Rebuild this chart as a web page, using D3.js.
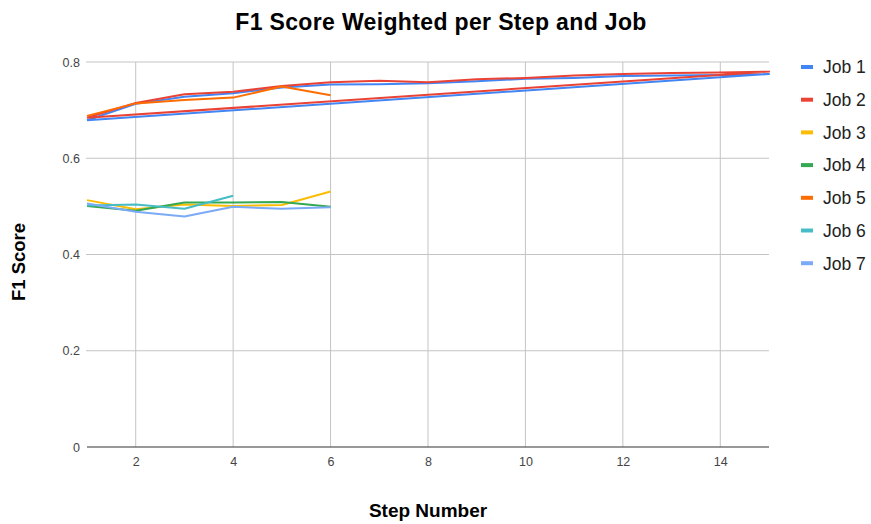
<!DOCTYPE html>
<html>
<head>
<meta charset="utf-8">
<script src="https://cdn.jsdelivr.net/npm/d3@7"></script>
<style>
  html, body { margin: 0; padding: 0; background: #fff; }
  svg { display: block; font-family: "Liberation Sans", Arial, sans-serif; }
</style>
</head>
<body>
<svg id="chart" width="871" height="524"></svg>
<script>
// Step numbers recorded per job (Jobs 1 and 2 loop back to their first step)
const stepsLong   = [1, 2, 3, 4, 5, 6, 7, 8, 9, 10, 11, 12, 13, 14, 15, 1];
const stepsShort  = [1, 2, 3, 4, 5, 6];
const stepsJob6   = [1, 2, 3, 4];

// Weighted F1 scores per job
const job1 = [0.679, 0.713, 0.728, 0.735, 0.747, 0.753, 0.754, 0.756, 0.760, 0.765, 0.767, 0.771, 0.772, 0.773, 0.775, 0.679];
const job2 = [0.684, 0.715, 0.733, 0.738, 0.750, 0.758, 0.761, 0.758, 0.764, 0.767, 0.772, 0.775, 0.777, 0.778, 0.780, 0.684];
const job3 = [0.513, 0.494, 0.504, 0.501, 0.503, 0.531];
const job4 = [0.501, 0.491, 0.508, 0.508, 0.509, 0.499];
const job5 = [0.688, 0.714, 0.721, 0.726, 0.749, 0.731];
const job6 = [0.502, 0.504, 0.495, 0.522];
const job7 = [0.506, 0.489, 0.479, 0.499, 0.495, 0.498];

const jobNames  = ["Job 1", "Job 2", "Job 3", "Job 4", "Job 5", "Job 6", "Job 7"];
const jobSteps  = [stepsLong, stepsLong, stepsShort, stepsShort, stepsShort, stepsJob6, stepsShort];
const jobValues = [job1, job2, job3, job4, job5, job6, job7];
const colors    = ["#4285f4", "#ea4335", "#fbbc04", "#34a853", "#ff6d01", "#46bdc6", "#7baaf7"];

const xTicks = [2, 4, 6, 8, 10, 12, 14];
const yTicks = [0, 0.2, 0.4, 0.6, 0.8];

const svg = d3.select("#chart");
const margin = { left: 87, right: 102, top: 62, bottom: 77 };
const W = 871, H = 524;

const x = d3.scaleLinear().domain([1, 15]).range([margin.left, W - margin.right]);
const y = d3.scaleLinear().domain([0, 0.8]).range([H - margin.bottom, margin.top]);

// Vertical gridlines
svg.append("g").selectAll("line").data(xTicks).join("line")
  .attr("x1", d => x(d)).attr("x2", d => x(d))
  .attr("y1", y(0.8)).attr("y2", y(0))
  .attr("stroke", "#c4c4c4").attr("stroke-width", 1);

// Horizontal gridlines
svg.append("g").selectAll("line").data(yTicks.filter(d => d > 0)).join("line")
  .attr("x1", x(1) - 1).attr("x2", x(15))
  .attr("y1", d => y(d)).attr("y2", d => y(d))
  .attr("stroke", "#c4c4c4").attr("stroke-width", 1);

// Y axis labels
const yAxis = d3.axisLeft(y).tickValues(yTicks).tickSize(0).tickPadding(7)
  .tickFormat(d => d === 0 ? "0" : d3.format(".1f")(d));
const gy = svg.append("g").attr("transform", `translate(${x(1)},0)`).call(yAxis);
gy.select(".domain").remove();
gy.selectAll("text").attr("fill", "#444").style("font-size", "12.5px")
  .style("font-family", "'Liberation Sans', Arial, sans-serif");

// X axis labels
const xAxis = d3.axisBottom(x).tickValues(xTicks).tickSize(0).tickPadding(10);
const gx = svg.append("g").attr("transform", `translate(0,${y(0)})`).call(xAxis);
gx.select(".domain").remove();
gx.selectAll("text").attr("fill", "#444").style("font-size", "12.5px")
  .style("font-family", "'Liberation Sans', Arial, sans-serif");

// Baseline
svg.append("line")
  .attr("x1", x(1)).attr("x2", x(15)).attr("y1", y(0)).attr("y2", y(0))
  .attr("stroke", "#333").attr("stroke-width", 1);

// Series lines
const line = d3.line().x(d => x(d[0])).y(d => y(d[1]));
const series = jobNames.map((name, i) => ({
  name, color: colors[i],
  points: jobSteps[i].map((s, j) => [s, jobValues[i][j]])
}));
svg.append("g").selectAll("path").data(series).join("path")
  .attr("d", d => line(d.points))
  .attr("fill", "none")
  .attr("stroke", d => d.color)
  .attr("stroke-width", 2)
  .attr("stroke-linejoin", "round");

// Title
svg.append("text")
  .attr("x", 441).attr("y", 30)
  .attr("text-anchor", "middle")
  .style("font-size", "23px").style("font-weight", "bold")
  .style("letter-spacing", "0.35px").attr("fill", "#000")
  .text("F1 Score Weighted per Step and Job");

// Axis titles
svg.append("text")
  .attr("x", x(8)).attr("y", 517)
  .attr("text-anchor", "middle")
  .style("font-size", "19px").style("font-weight", "bold").attr("fill", "#000")
  .text("Step Number");

svg.append("text")
  .attr("transform", "translate(25,262) rotate(-90)")
  .attr("text-anchor", "middle")
  .style("font-size", "18.5px").style("font-weight", "bold").attr("fill", "#000")
  .text("F1 Score");

// Legend
const legend = svg.append("g").selectAll("g").data(series).join("g")
  .attr("transform", (d, i) => `translate(801,${67 + i * 32.7})`);
legend.append("line")
  .attr("x1", 0).attr("x2", 12).attr("y1", 0).attr("y2", 0)
  .attr("stroke", d => d.color).attr("stroke-width", 4);
legend.append("text")
  .attr("x", 22).attr("y", 0).attr("dy", "0.36em")
  .style("font-size", "17.5px").attr("fill", "#222")
  .text(d => d.name);
</script>
</body>
</html>
